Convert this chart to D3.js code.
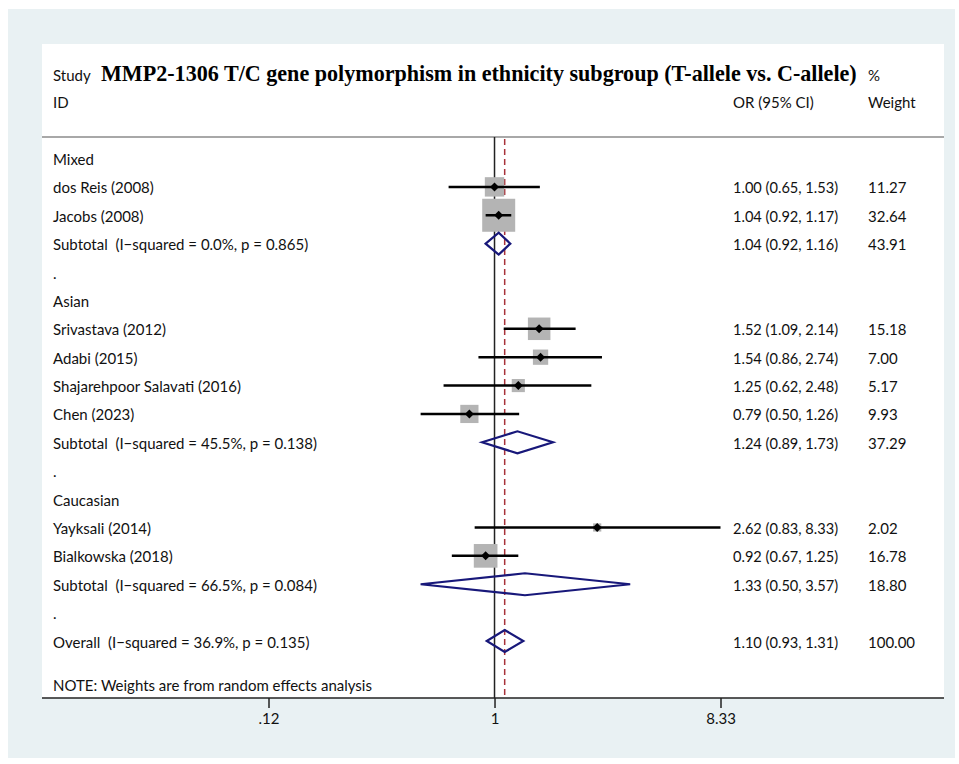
<!DOCTYPE html>
<html><head><meta charset="utf-8">
<script src="https://cdn.jsdelivr.net/npm/d3@7"></script>
<style>html,body{margin:0;padding:0;background:#fff;}svg{display:block;}text{white-space:pre;}</style>
</head><body>
<svg id="chart" width="959" height="764"></svg>
<script>
// ---- data ----
const rowLabels = [
  "Mixed", "dos Reis (2008)", "Jacobs (2008)", "Subtotal  (I\u2212squared = 0.0%, p = 0.865)", ".",
  "Asian", "Srivastava (2012)", "Adabi (2015)", "Shajarehpoor Salavati (2016)", "Chen (2023)",
  "Subtotal  (I\u2212squared = 45.5%, p = 0.138)", ".",
  "Caucasian", "Yayksali (2014)", "Bialkowska (2018)", "Subtotal  (I\u2212squared = 66.5%, p = 0.084)", ".",
  "Overall  (I\u2212squared = 36.9%, p = 0.135)"
];
const rowTypes = [
  "group","study","study","subtotal","blank",
  "group","study","study","study","study","subtotal","blank",
  "group","study","study","subtotal","blank",
  "overall"
];
const orValues = [null,1.00,1.04,1.04,null, null,1.52,1.54,1.25,0.79,1.24,null, null,2.62,0.92,1.33,null, 1.10];
const lowerCI  = [null,0.65,0.92,0.92,null, null,1.09,0.86,0.62,0.50,0.89,null, null,0.83,0.67,0.50,null, 0.93];
const upperCI  = [null,1.53,1.17,1.16,null, null,2.14,2.74,2.48,1.26,1.73,null, null,8.33,1.25,3.57,null, 1.31];
const weights  = [null,11.27,32.64,43.91,null, null,15.18,7.00,5.17,9.93,37.29,null, null,2.02,16.78,18.80,null, 100.00];
const tickValues = [0.12, 1, 8.33];
const tickLabels = [".12", "1", "8.33"];
const titleText = "MMP2-1306 T/C gene polymorphism in ethnicity subgroup (T-allele vs. C-allele)";
const noteText = "NOTE: Weights are from random effects analysis";

// ---- layout ----
const svg = d3.select("#chart");
const sans = "Lato, 'Open Sans', sans-serif";
const textColor = "#111";
const navy = "#18187a";

svg.append("rect").attr("x", 8).attr("y", 9).attr("width", 947).attr("height", 749).attr("fill", "#e9f1f3");
svg.append("rect").attr("x", 42).attr("y", 44).attr("width", 902).attr("height", 654).attr("fill", "#ffffff");

const x = d3.scaleLog().domain([0.12, 8.33]).range([268.5, 720.5]);
const y = d3.scaleLinear().domain([0, 17]).range([158.5, 641]);

const plotTop = 137, plotBottom = 698;

// header separator
svg.append("line").attr("x1", 42).attr("x2", 944).attr("y1", plotTop).attr("y2", plotTop)
  .attr("stroke", "#a8a8a8").attr("stroke-width", 2);

// header text
const hdr = svg.append("g").attr("font-family", sans).attr("fill", textColor).attr("font-size", 15);
hdr.append("text").attr("x", 53).attr("y", 81).text("Study");
hdr.append("text").attr("x", 53).attr("y", 108).text("ID");
hdr.append("text").attr("x", 868).attr("y", 81).text("%");
hdr.append("text").attr("x", 733).attr("y", 108).text("OR (95% CI)");
hdr.append("text").attr("x", 868).attr("y", 108).text("Weight");
const title = svg.append("text").attr("x", 101).attr("y", 81)
  .attr("font-family", "'Liberation Serif', 'Times New Roman', serif").attr("font-weight", "bold")
  .attr("font-size", 21).attr("fill", "#000").text(titleText);
const tw = title.node().getComputedTextLength();
if (tw > 0) title.attr("font-size", 21 * 756 / tw);

// reference lines
svg.append("line").attr("x1", x(1)).attr("x2", x(1)).attr("y1", plotTop).attr("y2", plotBottom)
  .attr("stroke", "#222").attr("stroke-width", 1.5);
const overallIdx = rowTypes.indexOf("overall");
svg.append("line").attr("x1", x(orValues[overallIdx])).attr("x2", x(orValues[overallIdx]))
  .attr("y1", plotTop + 2).attr("y2", plotBottom)
  .attr("stroke", "#a8323a").attr("stroke-width", 1.5).attr("stroke-dasharray", "6,4");

const rows = rowLabels.map((label, i) => ({
  label, type: rowTypes[i], or: orValues[i], lo: lowerCI[i], hi: upperCI[i], w: weights[i], i
}));

// labels
const fmt = d3.format(".2f");
const tg = svg.append("g").attr("font-family", sans).attr("font-size", 15).attr("fill", textColor);
tg.selectAll("text.lab").data(rows).join("text").attr("class", "lab")
  .attr("x", 53).attr("y", d => y(d.i) + 6.5).text(d => d.label);
const est = rows.filter(d => d.or != null);
tg.selectAll("text.ci").data(est).join("text").attr("class", "ci")
  .attr("x", 733).attr("y", d => y(d.i) + 6.5).attr("font-size", 14.6)
  .text(d => `${fmt(d.or)} (${fmt(d.lo)}, ${fmt(d.hi)})`);
tg.selectAll("text.w").data(est).join("text").attr("class", "w")
  .attr("x", 868).attr("y", d => y(d.i) + 6.5).text(d => fmt(d.w));
tg.append("text").attr("x", 53).attr("y", 691).text(noteText);

// study boxes
const studies = rows.filter(d => d.type === "study");
const boxScale = d3.scaleSqrt().domain([0, 32.64]).range([0, 33]);
svg.append("g").selectAll("rect").data(studies).join("rect")
  .attr("x", d => x(d.or) - boxScale(d.w) / 2).attr("y", d => y(d.i) - boxScale(d.w) / 2)
  .attr("width", d => boxScale(d.w)).attr("height", d => boxScale(d.w))
  .attr("fill", "#b4b4b4");
svg.append("g").selectAll("line").data(studies).join("line")
  .attr("x1", d => x(d.lo)).attr("x2", d => x(d.hi)).attr("y1", d => y(d.i)).attr("y2", d => y(d.i))
  .attr("stroke", "#000").attr("stroke-width", 2.5);
svg.append("g").selectAll("path").data(studies).join("path")
  .attr("d", d => { const cx = x(d.or), cy = y(d.i), r = 4.5;
    return `M${cx - r},${cy}L${cx},${cy - r}L${cx + r},${cy}L${cx},${cy + r}Z`; })
  .attr("fill", "#000");

// pooled diamonds
const pooled = rows.filter(d => d.type === "subtotal" || d.type === "overall");
svg.append("g").selectAll("path").data(pooled).join("path")
  .attr("d", d => { const cy = y(d.i), h = 11;
    return `M${x(d.lo)},${cy}L${x(d.or)},${cy - h}L${x(d.hi)},${cy}L${x(d.or)},${cy + h}Z`; })
  .attr("fill", "none").attr("stroke", navy).attr("stroke-width", 2.2).attr("stroke-linejoin", "miter");

// axis
svg.append("line").attr("x1", 42).attr("x2", 944).attr("y1", plotBottom).attr("y2", plotBottom)
  .attr("stroke", "#222").attr("stroke-width", 1.5);
const axis = d3.axisBottom(x).tickValues(tickValues).tickFormat((d, i) => tickLabels[i]).tickSize(10).tickPadding(5);
const ag = svg.append("g").attr("transform", `translate(0,${plotBottom})`).call(axis);
ag.select(".domain").remove();
ag.selectAll(".tick line").attr("stroke", "#222").attr("stroke-width", 1.5);
ag.selectAll(".tick text").attr("font-family", sans).attr("font-size", 15).attr("fill", textColor);
</script>
</body></html>
